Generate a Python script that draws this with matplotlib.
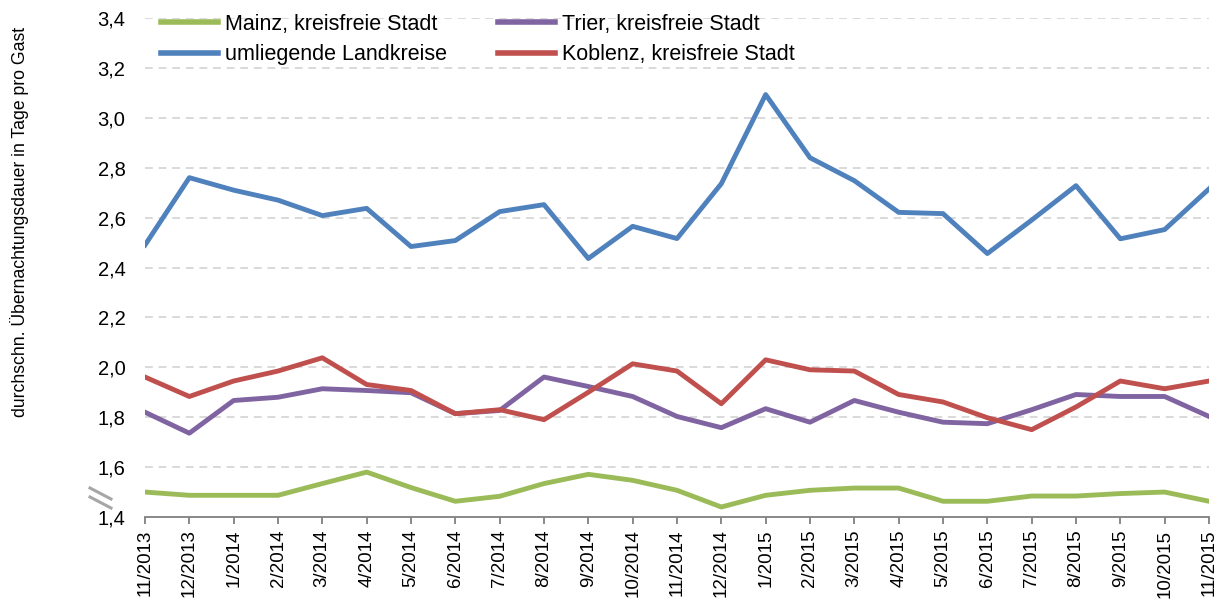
import matplotlib
matplotlib.use('Agg')
import matplotlib.pyplot as plt
import numpy as np
from matplotlib.lines import Line2D

plt.rcParams['font.family'] = ['Liberation Sans', 'DejaVu Sans']

months = ['11/2013', '12/2013', '1/2014', '2/2014', '3/2014', '4/2014', '5/2014',
          '6/2014', '7/2014', '8/2014', '9/2014', '10/2014', '11/2014', '12/2014',
          '1/2015', '2/2015', '3/2015', '4/2015', '5/2015', '6/2015', '7/2015',
          '8/2015', '9/2015', '10/2015', '11/2015']

mainz = [1.50, 1.487, 1.487, 1.487, 1.534, 1.580, 1.518, 1.463, 1.483, 1.534,
         1.571, 1.547, 1.507, 1.440, 1.487, 1.507, 1.516, 1.516, 1.463, 1.463,
         1.484, 1.484, 1.494, 1.500, 1.463]
landkreise = [2.49, 2.76, 2.71, 2.67, 2.608, 2.637, 2.484, 2.508, 2.624, 2.652,
              2.436, 2.565, 2.516, 2.736, 3.093, 2.84, 2.748, 2.621, 2.616, 2.456,
              2.59, 2.728, 2.515, 2.552, 2.715]
trier = [1.82, 1.736, 1.867, 1.88, 1.914, 1.907, 1.898, 1.814, 1.827, 1.961,
         1.923, 1.883, 1.803, 1.758, 1.834, 1.78, 1.867, 1.82, 1.78, 1.774,
         1.83, 1.891, 1.883, 1.883, 1.803]
koblenz = [1.961, 1.883, 1.945, 1.985, 2.038, 1.931, 1.907, 1.814, 1.830, 1.790,
           1.90, 2.014, 1.985, 1.854, 2.030, 1.99, 1.985, 1.891, 1.861, 1.798,
           1.750, 1.841, 1.945, 1.914, 1.945]

yticks = [1.4, 1.6, 1.8, 2.0, 2.2, 2.4, 2.6, 2.8, 3.0, 3.2, 3.4]

c_green = '#9BBB59'
c_blue = '#4F81BD'
c_purple = '#8064A2'
c_red = '#C0504D'

fig = plt.figure(figsize=(12.19, 6.04), dpi=100)
ax = fig.add_axes([145 / 1219, 87 / 604, 1064 / 1219, 499 / 604])

x = np.arange(len(months))
lw = 3.5
ax.plot(x, mainz, color=c_green, lw=lw, solid_joinstyle='round', zorder=3)
ax.plot(x, landkreise, color=c_blue, lw=lw, solid_joinstyle='round', zorder=3)
ax.plot(x, trier, color=c_purple, lw=lw, solid_joinstyle='round', zorder=3)
ax.plot(x, koblenz, color=c_red, lw=lw, solid_joinstyle='round', zorder=3)

ax.set_xlim(0, len(months) - 1)
ax.set_ylim(1.4, 3.4)
ax.set_yticks(yticks)
ax.set_yticklabels([f"{v:.1f}".replace('.', ',') for v in yticks], fontsize=14.5)
ax.set_xticks(x)
ax.set_xticklabels(months, rotation=90, fontsize=13.5)

# dashed horizontal grid, skip the baseline
for v in yticks[1:]:
    ax.axhline(v, color='#D9D9D9', lw=1.4, ls=(0, (4, 3)), zorder=1)

for s in ['top', 'right', 'left']:
    ax.spines[s].set_visible(False)
ax.spines['bottom'].set_color('#808080')
ax.spines['bottom'].set_linewidth(1.3)
ax.spines['bottom'].set_zorder(4)
ax.tick_params(axis='y', length=0, pad=14)
ax.tick_params(axis='x', length=5, width=1.3, color='#808080', direction='out', pad=4)

# axis break mark
for dy in (0, 9):
    fig.add_artist(Line2D([90 / 1219, 111 / 1219],
                          [1 - (488 + dy) / 604, 1 - (499 + dy) / 604],
                          color='#A6A6A6', lw=2.2))

fig.text(20 / 1219, 1 - 222 / 604, 'durchschn. Übernachtungsdauer in Tage pro Gast',
         rotation=90, ha='center', va='center', fontsize=12.7)

handles = [Line2D([], [], color=c_green, lw=4),
           Line2D([], [], color=c_blue, lw=4),
           Line2D([], [], color=c_purple, lw=4),
           Line2D([], [], color=c_red, lw=4)]
labels = ['Mainz, kreisfreie Stadt', 'umliegende Landkreise',
          'Trier, kreisfreie Stadt', 'Koblenz, kreisfreie Stadt']
fig.legend(handles, labels, ncol=2, loc='upper left',
           bbox_to_anchor=(161 / 1219, 1 - 14 / 604), frameon=False,
           fontsize=15.5, handlelength=2.65, handletextpad=0.33,
           columnspacing=2.35, labelspacing=0.42, borderpad=0, borderaxespad=0)

fig.savefig('out.png', dpi=100)
